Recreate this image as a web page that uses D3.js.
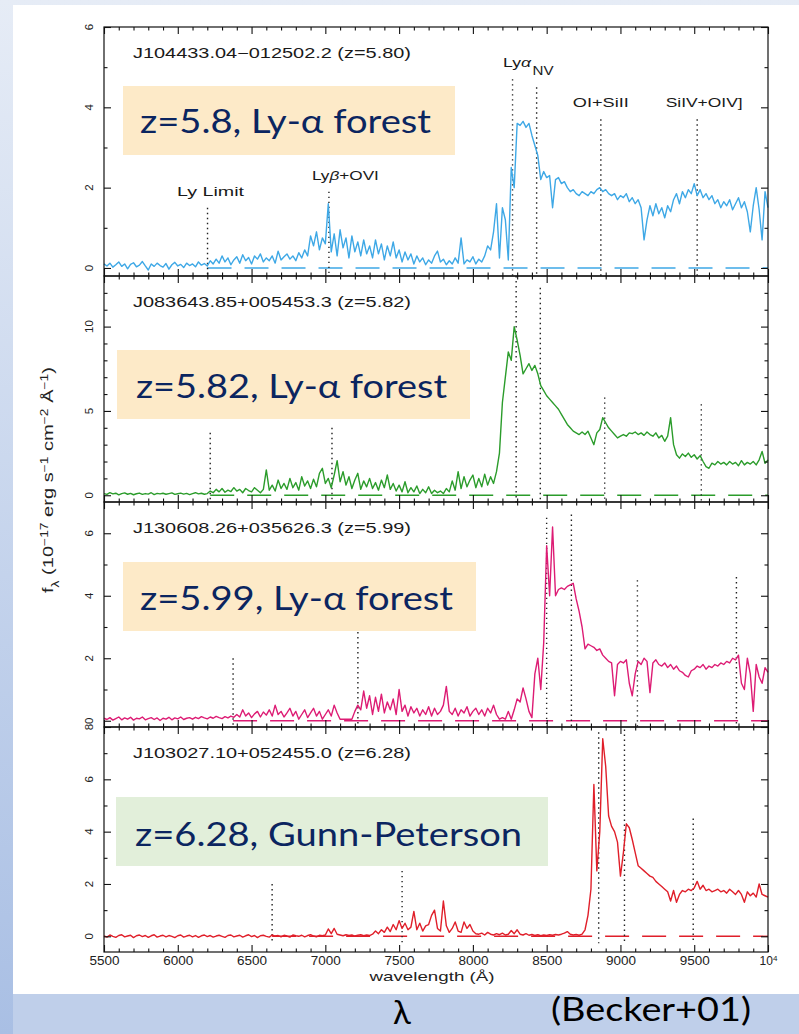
<!DOCTYPE html>
<html>
<head>
<meta charset="utf-8">
<script src="https://cdn.jsdelivr.net/npm/d3@7"></script>
<style>
  html, body { margin: 0; padding: 0; background: #fff; }
  svg { display: block; }
</style>
</head>
<body>
<svg id="chart" width="799" height="1034"></svg>
<script>
// ---------------------------------------------------------------
// Data
// ---------------------------------------------------------------
const wavelengthTicks = [5500, 6000, 6500, 7000, 7500, 8000, 8500, 9000, 9500, 10000];
// spectra are sampled every 20 Å from 5500 Å to 10000 Å
const wavelengthGrid = d3.range(5500, 10001, 20);

const quasarNames = [
  "J104433.04\u2212012502.2 (z=5.80)",
  "J083643.85+005453.3 (z=5.82)",
  "J130608.26+035626.3 (z=5.99)",
  "J103027.10+052455.0 (z=6.28)"
];
const redshifts = [5.80, 5.82, 5.99, 6.28];
const bandLabels = [
  "z=5.8, Ly-\u03b1 forest",
  "z=5.82, Ly-\u03b1 forest",
  "z=5.99, Ly-\u03b1 forest",
  "z=6.28, Gunn-Peterson"
];

// emission lines (rest frame, Å) and the flux reached by each marker
const lineNames = ["Ly Limit", "Ly\u03b2+OVI", "Ly\u03b1", "NV", "OI+SiII", "SiIV+OIV]"];
const restWavelengths = [912, 1033, 1216, 1240, 1304, 1400];
const markerTops = [
  [1.5, 1.9, 4.7, 4.5, 3.7, 3.7],
  [3.7, 4.0, 13.0, 12.3, 5.8, 5.4],
  [2.0, 3.0, 6.5, 6.6, 4.5, 4.6],
  [2.0, 2.5, 7.8, 7.9, 4.5, 4.5]
];

const yDomains = [[-0.2, 6], [-0.4, 13], [-0.2, 7], [-0.6, 8]];
const yMajorTicks = [[0, 2, 4, 6], [0, 5, 10], [0, 2, 4, 6], [0, 2, 4, 6, 8]];
const yMinorTicks = [[1, 3, 5], [1, 2, 3, 4, 6, 7, 8, 9, 11, 12], [1, 3, 5], [1, 3, 5, 7]];

// flux in 1e-17 erg/s/cm^2/Å, one row = 200 Å
const fluxJ1044 = [
  0.10,0.05,0.12,0.02,0.08,0.15,0.04,0.10,-0.02,0.09,
  0.13,0.03,0.07,0.16,0.05,-0.05,0.10,0.04,0.12,0.06,
  0.02,0.11,-0.03,0.08,0.14,0.05,0.09,0.01,0.12,0.06,
  0.10,0.03,0.15,0.07,0.11,0.05,0.18,0.10,0.22,0.12,
  0.30,0.15,0.25,0.08,0.20,0.28,0.12,0.33,0.18,0.26,
  0.10,0.30,0.22,0.35,0.15,0.25,0.18,0.30,0.12,0.42,
  0.20,0.28,0.35,0.22,0.30,0.18,0.38,0.25,0.45,0.30,
  0.80,0.55,0.90,0.45,0.75,0.60,1.60,0.40,0.85,0.30,
  0.95,0.50,0.75,0.25,0.80,0.40,0.65,0.30,0.70,0.35,
  0.55,0.25,0.70,0.35,0.60,0.20,0.55,0.30,0.65,0.25,
  0.45,0.15,0.40,0.20,0.35,0.10,0.30,0.15,0.25,0.08,
  0.20,0.12,0.30,0.42,0.15,0.22,0.08,0.18,0.10,0.25,
  0.12,0.75,0.10,0.20,0.15,0.28,0.10,0.22,0.15,0.30,
  0.55,0.45,0.90,1.60,0.25,1.50,1.20,0.20,2.50,2.00,
  3.60,3.55,3.65,3.50,3.60,3.30,3.05,2.80,2.20,2.40,
  2.25,2.30,1.50,2.20,2.25,2.10,2.15,2.00,1.90,1.95,
  1.85,1.80,1.90,1.85,1.80,1.90,1.85,1.95,2.00,1.90,
  1.95,1.85,1.80,1.85,1.70,1.80,1.75,1.85,1.65,1.75,
  1.60,1.70,1.50,0.70,1.20,1.55,1.30,1.60,1.35,1.50,
  1.25,1.55,1.40,1.70,1.85,1.60,1.90,1.75,1.95,1.85,
  2.10,1.80,1.95,1.75,1.85,1.70,1.80,1.60,1.70,1.50,
  1.65,1.55,1.70,1.45,1.60,1.75,1.50,1.65,1.40,0.90,
  1.55,2.00,1.45,0.70,1.90,1.50
];
const fluxJ0836 = [
  0.10,0.05,0.15,0.08,0.12,0.02,0.10,0.14,0.06,0.11,
  0.03,0.09,0.13,0.05,0.10,0.07,0.15,0.04,0.11,0.08,
  0.12,0.06,0.10,0.14,0.05,0.09,0.13,0.07,0.11,0.04,
  0.10,0.15,0.08,0.12,0.06,0.10,0.25,0.15,0.35,0.20,
  0.40,0.18,0.30,0.22,0.45,0.25,0.35,0.15,0.40,0.28,
  0.20,0.45,0.30,0.15,0.35,1.50,0.30,0.60,0.25,0.90,
  0.40,0.70,0.35,1.00,0.45,0.75,0.30,1.10,0.55,0.85,
  0.40,0.95,0.50,1.30,1.60,0.70,1.00,0.45,1.20,2.05,
  0.80,1.40,0.60,1.10,0.40,0.90,1.30,0.35,0.85,0.50,
  1.00,0.40,0.75,0.30,0.90,0.45,1.20,0.35,0.70,0.25,
  0.60,0.20,0.80,0.15,0.45,0.20,0.55,0.10,0.35,0.15,
  0.50,0.10,0.30,0.15,0.25,0.10,0.40,0.20,0.85,0.30,
  1.40,0.40,1.10,0.50,0.90,1.20,0.45,1.00,0.50,1.25,
  0.60,1.10,0.70,1.40,2.50,5.50,7.00,8.50,8.00,10.0,
  9.20,8.30,7.20,7.50,7.80,7.40,7.70,7.20,6.50,6.20,
  5.90,5.70,5.50,5.30,5.10,4.80,4.50,4.20,4.00,3.80,
  3.70,3.60,3.75,3.60,3.80,3.40,3.00,3.70,3.90,4.60,
  4.30,4.00,3.80,3.60,3.40,3.50,3.60,3.50,3.70,3.65,
  3.75,3.60,3.70,3.55,3.75,3.60,3.50,3.70,3.40,3.55,
  3.20,3.50,4.60,3.00,2.40,2.20,2.45,2.30,2.50,2.25,
  2.40,2.15,2.35,2.00,1.70,1.60,1.90,1.80,2.00,1.85,
  1.95,1.80,2.00,1.85,1.95,1.75,2.05,1.80,1.95,1.85,
  2.00,1.80,2.10,2.60,1.90,2.10
];
const fluxJ1306 = [
  0.08,0.04,0.10,0.02,0.07,0.12,0.03,0.09,0.05,0.11,
  0.02,0.08,0.06,0.12,0.03,0.07,0.10,0.04,0.09,0.01,
  0.08,0.05,0.11,0.03,0.09,0.06,0.12,0.04,0.08,0.10,
  0.05,0.11,0.07,0.13,0.09,0.06,0.12,0.08,0.14,0.10,
  0.07,0.13,0.09,0.15,0.11,0.20,0.12,0.35,0.15,0.25,
  0.10,0.22,0.30,0.12,0.28,0.18,0.35,0.15,0.50,0.20,
  0.30,0.12,0.25,0.40,0.15,0.30,0.05,0.20,0.35,0.10,
  0.25,0.40,0.15,0.30,0.05,0.20,0.35,0.15,0.50,0.25,
  0.05,0.05,0.05,0.05,0.05,0.30,0.50,0.35,0.95,0.40,
  0.80,0.20,0.75,0.30,0.85,0.25,0.60,0.35,0.70,0.20,
  1.00,0.30,0.50,0.15,0.45,0.25,0.40,0.15,0.35,0.20,
  0.45,0.15,0.40,0.20,0.30,0.50,1.10,0.30,0.20,0.40,
  0.15,0.35,0.25,0.45,0.15,0.30,0.40,0.20,0.35,0.15,
  0.40,0.25,0.50,0.20,0.05,0.10,0.05,0.30,0.05,0.35,
  0.70,0.60,1.05,0.70,0.30,0.10,1.50,2.00,1.00,2.50,
  5.60,4.00,6.20,4.00,4.20,4.25,4.20,4.30,4.35,4.40,
  3.90,3.50,3.00,2.30,2.45,2.40,2.35,2.25,2.30,2.10,
  2.00,1.90,1.85,0.80,1.80,1.90,1.85,1.95,1.20,0.80,
  1.50,1.90,1.80,2.00,1.90,0.90,1.85,1.95,1.80,1.75,
  1.85,1.70,1.80,1.65,1.75,1.60,1.55,1.45,1.40,1.60,
  1.65,1.75,1.70,1.80,1.65,1.75,1.70,1.80,1.75,1.85,
  1.80,1.90,1.85,2.00,1.95,2.10,1.20,1.00,2.00,1.50,
  0.30,1.80,1.40,1.20,1.70,1.55
];
const fluxJ1030 = [
  0.02,-0.03,0.05,0.00,-0.04,0.03,0.06,-0.02,0.01,0.04,
  -0.05,0.02,0.05,-0.01,0.03,-0.04,0.02,0.06,-0.03,0.01,
  0.04,-0.02,0.03,0.00,-0.05,0.02,0.05,-0.03,0.01,0.04,
  -0.02,0.03,-0.04,0.02,0.05,-0.01,0.03,-0.03,0.01,0.04,
  0.00,-0.04,0.03,0.05,-0.02,0.01,0.04,-0.03,0.02,0.06,
  -0.01,0.03,-0.05,0.02,0.04,0.00,-0.03,0.05,0.01,0.03,
  -0.02,0.04,0.01,-0.03,0.05,0.02,0.00,0.04,-0.02,0.03,
  0.06,0.01,-0.02,0.04,0.02,0.05,0.28,0.10,0.30,0.08,
  0.05,0.02,0.06,0.03,0.05,0.01,0.04,0.06,0.02,0.05,
  0.03,0.08,0.20,0.10,0.25,0.15,0.35,0.18,0.45,0.25,
  0.60,0.30,0.50,0.25,0.35,0.95,0.25,0.50,0.20,0.40,
  0.45,0.80,1.00,0.30,0.20,1.35,0.40,0.15,0.30,0.55,
  0.20,0.15,0.55,0.30,0.45,0.20,0.10,0.08,0.12,0.05,
  0.15,0.08,0.05,0.10,0.06,0.12,0.05,0.08,0.22,0.10,
  0.25,0.08,0.05,0.10,0.04,0.07,0.03,0.06,0.02,0.05,
  0.03,0.06,0.04,0.07,0.05,0.08,0.12,0.18,0.08,0.05,
  0.07,0.04,0.08,0.25,0.80,1.80,5.80,2.50,4.00,7.55,
  6.50,4.60,4.20,4.00,3.60,2.30,3.20,4.30,4.15,3.70,
  3.20,2.70,2.60,2.50,2.40,2.30,2.25,2.10,2.00,1.90,
  1.80,1.70,1.35,1.75,1.30,1.60,1.75,1.70,1.80,1.75,
  1.85,2.10,1.80,1.95,1.75,1.80,1.70,1.75,1.80,1.70,
  1.75,1.65,1.80,1.70,1.60,1.75,1.60,1.30,1.70,1.55,
  1.65,1.50,2.00,1.60,1.55,1.50
];
const spectra = [fluxJ1044, fluxJ0836, fluxJ1306, fluxJ1030];

// ---------------------------------------------------------------
// Layout and style
// ---------------------------------------------------------------
const W = 799, H = 1034;
const plotLeft = 104, plotRight = 768;
const panelTops = [27, 276, 502, 727];
const panelBottoms = [276, 502, 727, 952];
const spectrumColors = ["#3ea8e6", "#2b9c2b", "#dd1c74", "#e01f2a"];
const boxFills = ["#fdeac8", "#fdeac8", "#fdeac8", "#e2efda"];
const boxes = [
  { x: 123, y: 86, w: 332, h: 69, tx: 140, ty: 133, tw: 291 },
  { x: 117, y: 350, w: 353, h: 69, tx: 136, ty: 398, tw: 311 },
  { x: 123, y: 562, w: 353, h: 69, tx: 140, ty: 610, tw: 313 },
  { x: 116, y: 797, w: 432, h: 69, tx: 135, ty: 846, tw: 387 }
];
// horizontal shift and width of each line identification
const labelOffsets = [3, 16.5, 4.5, 6.5, 0, 7];
const labelWidths = [67, 67, 28, 21, 56, 77];
const plotFont = "'Liberation Sans', Arial, Helvetica, sans-serif";
const slideFont = "Lato, 'Open Sans', 'Noto Sans', sans-serif";

const svg = d3.select("#chart");

// slide backdrop
const defs = svg.append("defs");
const grad = defs.append("linearGradient")
  .attr("id", "slideGrad").attr("x1", 0).attr("y1", 0).attr("x2", 0).attr("y2", 1);
grad.append("stop").attr("offset", "0%").attr("stop-color", "#e6ecf6");
grad.append("stop").attr("offset", "100%").attr("stop-color", "#a9bfe4");
svg.append("rect").attr("width", W).attr("height", H).attr("fill", "url(#slideGrad)");
svg.append("rect").attr("x", 13).attr("y", 994).attr("width", W - 13).attr("height", H - 994)
  .attr("fill", "#bfcfea");
svg.append("rect").attr("x", 13).attr("y", 5).attr("width", W - 13).attr("height", 989)
  .attr("fill", "#ffffff");

const x = d3.scaleLinear().domain([5500, 10000]).range([plotLeft, plotRight]);
const xMinor = d3.range(5500, 10001, 100).filter(v => v % 500 !== 0);

spectra.forEach((flux, k) => {
  const top = panelTops[k], bottom = panelBottoms[k];
  const y = d3.scaleLinear().domain(yDomains[k]).range([bottom, top]);
  const g = svg.append("g").attr("class", "panel");
  const z1 = 1 + redshifts[k];
  const observed = restWavelengths.map(r => r * z1);

  // zero level
  g.append("line")
    .attr("x1", x(observed[0])).attr("x2", x(10000))
    .attr("y1", y(0)).attr("y2", y(0))
    .attr("stroke", spectrumColors[k]).attr("stroke-width", 1.4)
    .attr("stroke-dasharray", "24,13");

  // emission line markers
  observed.forEach((lam, j) => {
    if (lam > 10000) return;
    g.append("line")
      .attr("x1", x(lam)).attr("x2", x(lam))
      .attr("y1", y(markerTops[k][j])).attr("y2", y(-0.2 * (yDomains[k][1] / 6)))
      .attr("stroke", "#222").attr("stroke-width", 1.4)
      .attr("stroke-dasharray", "1.4,3.6");
  });

  // spectrum
  const line = d3.line()
    .x((d, i) => x(wavelengthGrid[i]))
    .y(d => y(d));
  g.append("path")
    .datum(flux)
    .attr("d", line)
    .attr("fill", "none")
    .attr("stroke", spectrumColors[k])
    .attr("stroke-width", 1.4)
    .attr("stroke-linejoin", "round");

  // ticks on all four sides, pointing inward
  const tickStyle = sel => {
    sel.select(".domain").remove();
    sel.selectAll(".tick line").attr("stroke", "#111").attr("stroke-width", 1.1);
  };
  const xb = d3.axisBottom(x).tickValues(wavelengthTicks).tickSize(-7).tickPadding(4);
  if (k < 3) xb.tickFormat("");
  else xb.tickFormat(d => d === 10000 ? "" : d);
  const xbG = g.append("g").attr("transform", `translate(0,${bottom})`).call(xb).call(tickStyle);
  g.append("g").attr("transform", `translate(0,${bottom})`)
    .call(d3.axisBottom(x).tickValues(xMinor).tickSize(-3.5).tickFormat("")).call(tickStyle);
  g.append("g").attr("transform", `translate(0,${top})`)
    .call(d3.axisTop(x).tickValues(wavelengthTicks).tickSize(-7).tickFormat("")).call(tickStyle);
  g.append("g").attr("transform", `translate(0,${top})`)
    .call(d3.axisTop(x).tickValues(xMinor).tickSize(-3.5).tickFormat("")).call(tickStyle);
  g.append("g").attr("transform", `translate(${plotLeft},0)`)
    .call(d3.axisLeft(y).tickValues(yMajorTicks[k]).tickSize(-7).tickFormat("")).call(tickStyle);
  g.append("g").attr("transform", `translate(${plotLeft},0)`)
    .call(d3.axisLeft(y).tickValues(yMinorTicks[k]).tickSize(-3.5).tickFormat("")).call(tickStyle);
  g.append("g").attr("transform", `translate(${plotRight},0)`)
    .call(d3.axisRight(y).tickValues(yMajorTicks[k]).tickSize(-7).tickFormat("")).call(tickStyle);
  g.append("g").attr("transform", `translate(${plotRight},0)`)
    .call(d3.axisRight(y).tickValues(yMinorTicks[k]).tickSize(-3.5).tickFormat("")).call(tickStyle);

  if (k === 3) {
    xbG.selectAll(".tick text")
      .attr("font-family", plotFont).attr("font-size", 12).attr("fill", "#222")
      .filter(d => d !== 10000)
      .attr("textLength", 30).attr("lengthAdjust", "spacingAndGlyphs");
    const last = xbG.selectAll(".tick").filter(d => d === 10000).select("text");
    last.append("tspan").text("10");
    last.append("tspan").attr("dy", "-0.45em").attr("font-size", 8).text("4");
  }

  // rotated y tick labels
  g.selectAll(".ylab")
    .data(yMajorTicks[k])
    .join("text")
    .attr("transform", d => `translate(89,${y(d)}) rotate(-90)`)
    .attr("text-anchor", "middle")
    .attr("dy", "0.36em")
    .attr("font-family", plotFont)
    .attr("font-size", 11.5)
    .attr("fill", "#222")
    .text(d => d);

  // frame
  g.append("rect")
    .attr("x", plotLeft).attr("y", top)
    .attr("width", plotRight - plotLeft).attr("height", bottom - top)
    .attr("fill", "none").attr("stroke", "#111").attr("stroke-width", 1.2);

  // object name
  g.append("text")
    .attr("x", 133).attr("y", top + 31)
    .attr("font-family", plotFont).attr("font-size", 14).attr("fill", "#1a1a1a")
    .attr("textLength", 278).attr("lengthAdjust", "spacingAndGlyphs")
    .text(quasarNames[k]);

  // line identifications (first panel only)
  if (k === 0) {
    observed.forEach((lam, j) => {
      const t = g.append("text")
        .attr("x", x(lam) + labelOffsets[j])
        .attr("y", y(markerTops[k][j]) - 12)
        .attr("text-anchor", "middle")
        .attr("font-family", plotFont).attr("font-size", 13).attr("fill", "#1a1a1a")
        .attr("textLength", labelWidths[j]).attr("lengthAdjust", "spacingAndGlyphs");
      const name = lineNames[j];
      const greek = name.search(/[\u03b1\u03b2]/);
      if (greek >= 0) {
        t.append("tspan").text(name.slice(0, greek));
        t.append("tspan").attr("font-style", "italic").text(name[greek]);
        t.append("tspan").text(name.slice(greek + 1));
      } else {
        t.text(name);
      }
    });
  }

  // annotation box
  const b = boxes[k];
  svg.append("rect")
    .attr("x", b.x).attr("y", b.y).attr("width", b.w).attr("height", b.h)
    .attr("fill", boxFills[k]);
  svg.append("text")
    .attr("x", b.tx).attr("y", b.ty)
    .attr("font-family", slideFont).attr("font-size", 33).attr("fill", "#0b2560")
    .attr("textLength", b.tw).attr("lengthAdjust", "spacingAndGlyphs")
    .text(bandLabels[k]);
});

// axis titles
svg.append("text")
  .attr("x", (plotLeft + plotRight) / 2 - 4).attr("y", 981)
  .attr("text-anchor", "middle")
  .attr("font-family", plotFont).attr("font-size", 13.5).attr("fill", "#222")
  .attr("textLength", 125).attr("lengthAdjust", "spacingAndGlyphs")
  .text("wavelength (\u00c5)");

const yTitle = svg.append("text")
  .attr("transform", "translate(53,480) rotate(-90)")
  .attr("text-anchor", "middle")
  .attr("font-family", plotFont).attr("font-size", 14.5).attr("fill", "#222")
  .attr("textLength", 226).attr("lengthAdjust", "spacingAndGlyphs");
yTitle.append("tspan").text("f");
yTitle.append("tspan").attr("baseline-shift", "sub").attr("font-size", 10).text("\u03bb");
yTitle.append("tspan").text(" (10");
yTitle.append("tspan").attr("baseline-shift", "super").attr("font-size", 10).text("\u221217");
yTitle.append("tspan").text(" erg s");
yTitle.append("tspan").attr("baseline-shift", "super").attr("font-size", 10).text("\u22121");
yTitle.append("tspan").text(" cm");
yTitle.append("tspan").attr("baseline-shift", "super").attr("font-size", 10).text("\u22122");
yTitle.append("tspan").text(" \u00c5");
yTitle.append("tspan").attr("baseline-shift", "super").attr("font-size", 10).text("\u22121");
yTitle.append("tspan").text(")");

// slide captions
svg.append("text")
  .attr("x", 402).attr("y", 1024).attr("text-anchor", "middle")
  .attr("font-family", slideFont).attr("font-size", 33).attr("fill", "#000")
  .text("\u03bb");
svg.append("text")
  .attr("x", 551).attr("y", 1021)
  .attr("font-family", slideFont).attr("font-size", 33).attr("fill", "#000")
  .attr("textLength", 200).attr("lengthAdjust", "spacingAndGlyphs")
  .text("(Becker+01)");
</script>
</body>
</html>
